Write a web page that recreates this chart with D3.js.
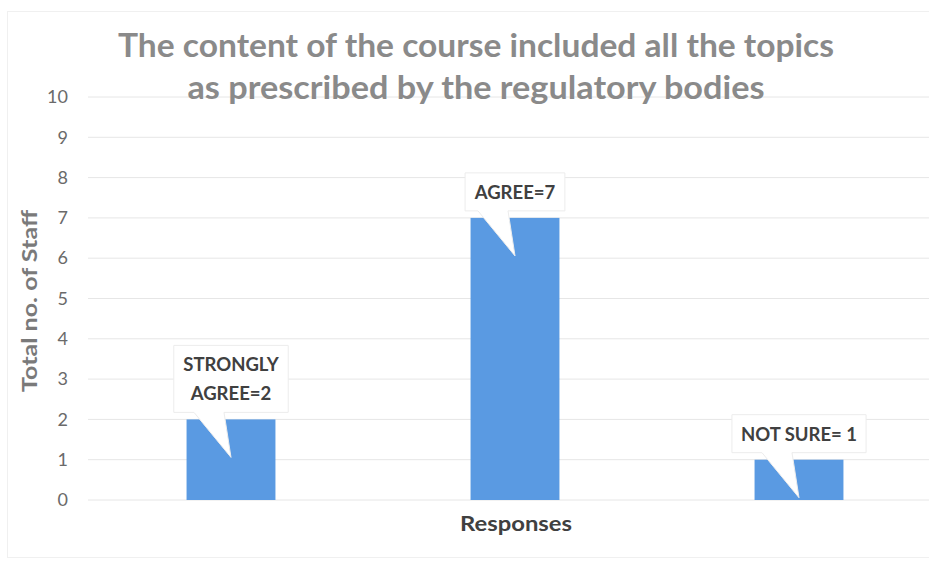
<!DOCTYPE html>
<html><head><meta charset="utf-8">
<script src="https://cdn.jsdelivr.net/npm/d3@7"></script>
<style>body{margin:0;background:#fff}svg{display:block}</style>
</head><body>
<svg id="chart" width="929" height="566"></svg>
<script>
const categories = ["STRONGLY AGREE", "AGREE", "NOT SURE"];
const values = [2, 7, 1];
const labelLines = [["STRONGLY", "AGREE=2"], ["AGREE=7"], ["NOT SURE= 1"]];
const yTicks = [0,1,2,3,4,5,6,7,8,9,10];
const titleLines = ["The content of the course included all the topics", "as prescribed by the regulatory bodies"];
const yTitle = "Total no. of Staff";
const xTitle = "Responses";

const W = 929, H = 566;
const svg = d3.select("#chart");
const font = "Lato, 'Open Sans', sans-serif";

svg.append("rect").attr("x",7.5).attr("y",11.5).attr("width",W-7).attr("height",H-20)
  .attr("fill","#fff").attr("stroke","#f0f0f0");

const x = d3.scaleBand().domain(categories).range([89, 941]).paddingInner(0.687).paddingOuter(0.3435);
const y = d3.scaleLinear().domain([0,10]).range([500, 97]);

// gridlines
svg.append("g").selectAll("line").data(yTicks).join("line")
  .attr("x1",88).attr("x2",W).attr("y1",d=>y(d)).attr("y2",d=>y(d))
  .attr("stroke","#e6e6e6").attr("stroke-width",1);

// y axis labels
const yAxis = d3.axisLeft(y).tickValues(yTicks).tickSize(0).tickPadding(0);
const ga = svg.append("g").attr("transform","translate(68,0)").call(yAxis);
ga.select(".domain").remove();
ga.selectAll("text").attr("font-family",font).attr("font-size",18).attr("fill","#6a6a6a");

// bars
const bw = x.bandwidth();
svg.append("g").selectAll("rect").data(values).join("rect")
  .attr("x",(d,i)=>x(categories[i])).attr("y",d=>y(d))
  .attr("width",bw).attr("height",d=>y(0)-y(d))
  .attr("fill","#5a9ae2");

// callouts
const lineH = 29, padX = 9;
values.forEach((v,i)=>{
  const cx = x(categories[i]) + bw/2;
  const lines = labelLines[i];
  const g = svg.append("g");
  const top = y(v);
  const boxBottom = top - 7;
  const boxH = lines.length*lineH + 9;
  const boxTop = boxBottom - boxH;
  const texts = g.selectAll("text").data(lines).join("text")
    .attr("x",cx).attr("y",(d,j)=>boxTop + 26 + j*lineH)
    .attr("text-anchor","middle").attr("font-family",font).attr("font-weight","bold")
    .attr("font-size",18.5).attr("fill","#404040").text(d=>d);
  let tw = 0; texts.each(function(){ tw = Math.max(tw, this.getBBox().width); });
  const bx0 = cx - tw/2 - padX, bx1 = cx + tw/2 + padX;
  const tipY = Math.min(top + 38, y(0));
  const path = `M${bx0},${boxTop}H${bx1}V${boxBottom}H${cx-7}L${cx},${tipY}L${cx-37},${boxBottom}H${bx0}Z`;
  g.insert("path","text").attr("d",path).attr("fill","#ffffff")
    .attr("stroke","#ececec").attr("stroke-width",1);
});

// title
const titleLen = [716, 577];
svg.append("g").selectAll("text").data(titleLines).join("text")
  .attr("x",476).attr("y",(d,i)=>57 + i*42)
  .attr("text-anchor","middle").attr("font-family",font).attr("font-weight","bold")
  .attr("font-size",33).attr("fill","#8a8a8a")
  .attr("textLength",(d,i)=>titleLen[i]).attr("lengthAdjust","spacingAndGlyphs").text(d=>d);

// axis titles
svg.append("text").attr("transform","translate(37,301) rotate(-90)")
  .attr("text-anchor","middle").attr("font-family",font).attr("font-weight","bold")
  .attr("font-size",21).attr("fill","#7a7a7a")
  .attr("textLength",182).attr("lengthAdjust","spacingAndGlyphs").text(yTitle);
svg.append("text").attr("x",516).attr("y",531)
  .attr("text-anchor","middle").attr("font-family",font).attr("font-weight","bold")
  .attr("font-size",21).attr("fill","#404040")
  .attr("textLength",112).attr("lengthAdjust","spacingAndGlyphs").text(xTitle);
</script>
</body></html>
